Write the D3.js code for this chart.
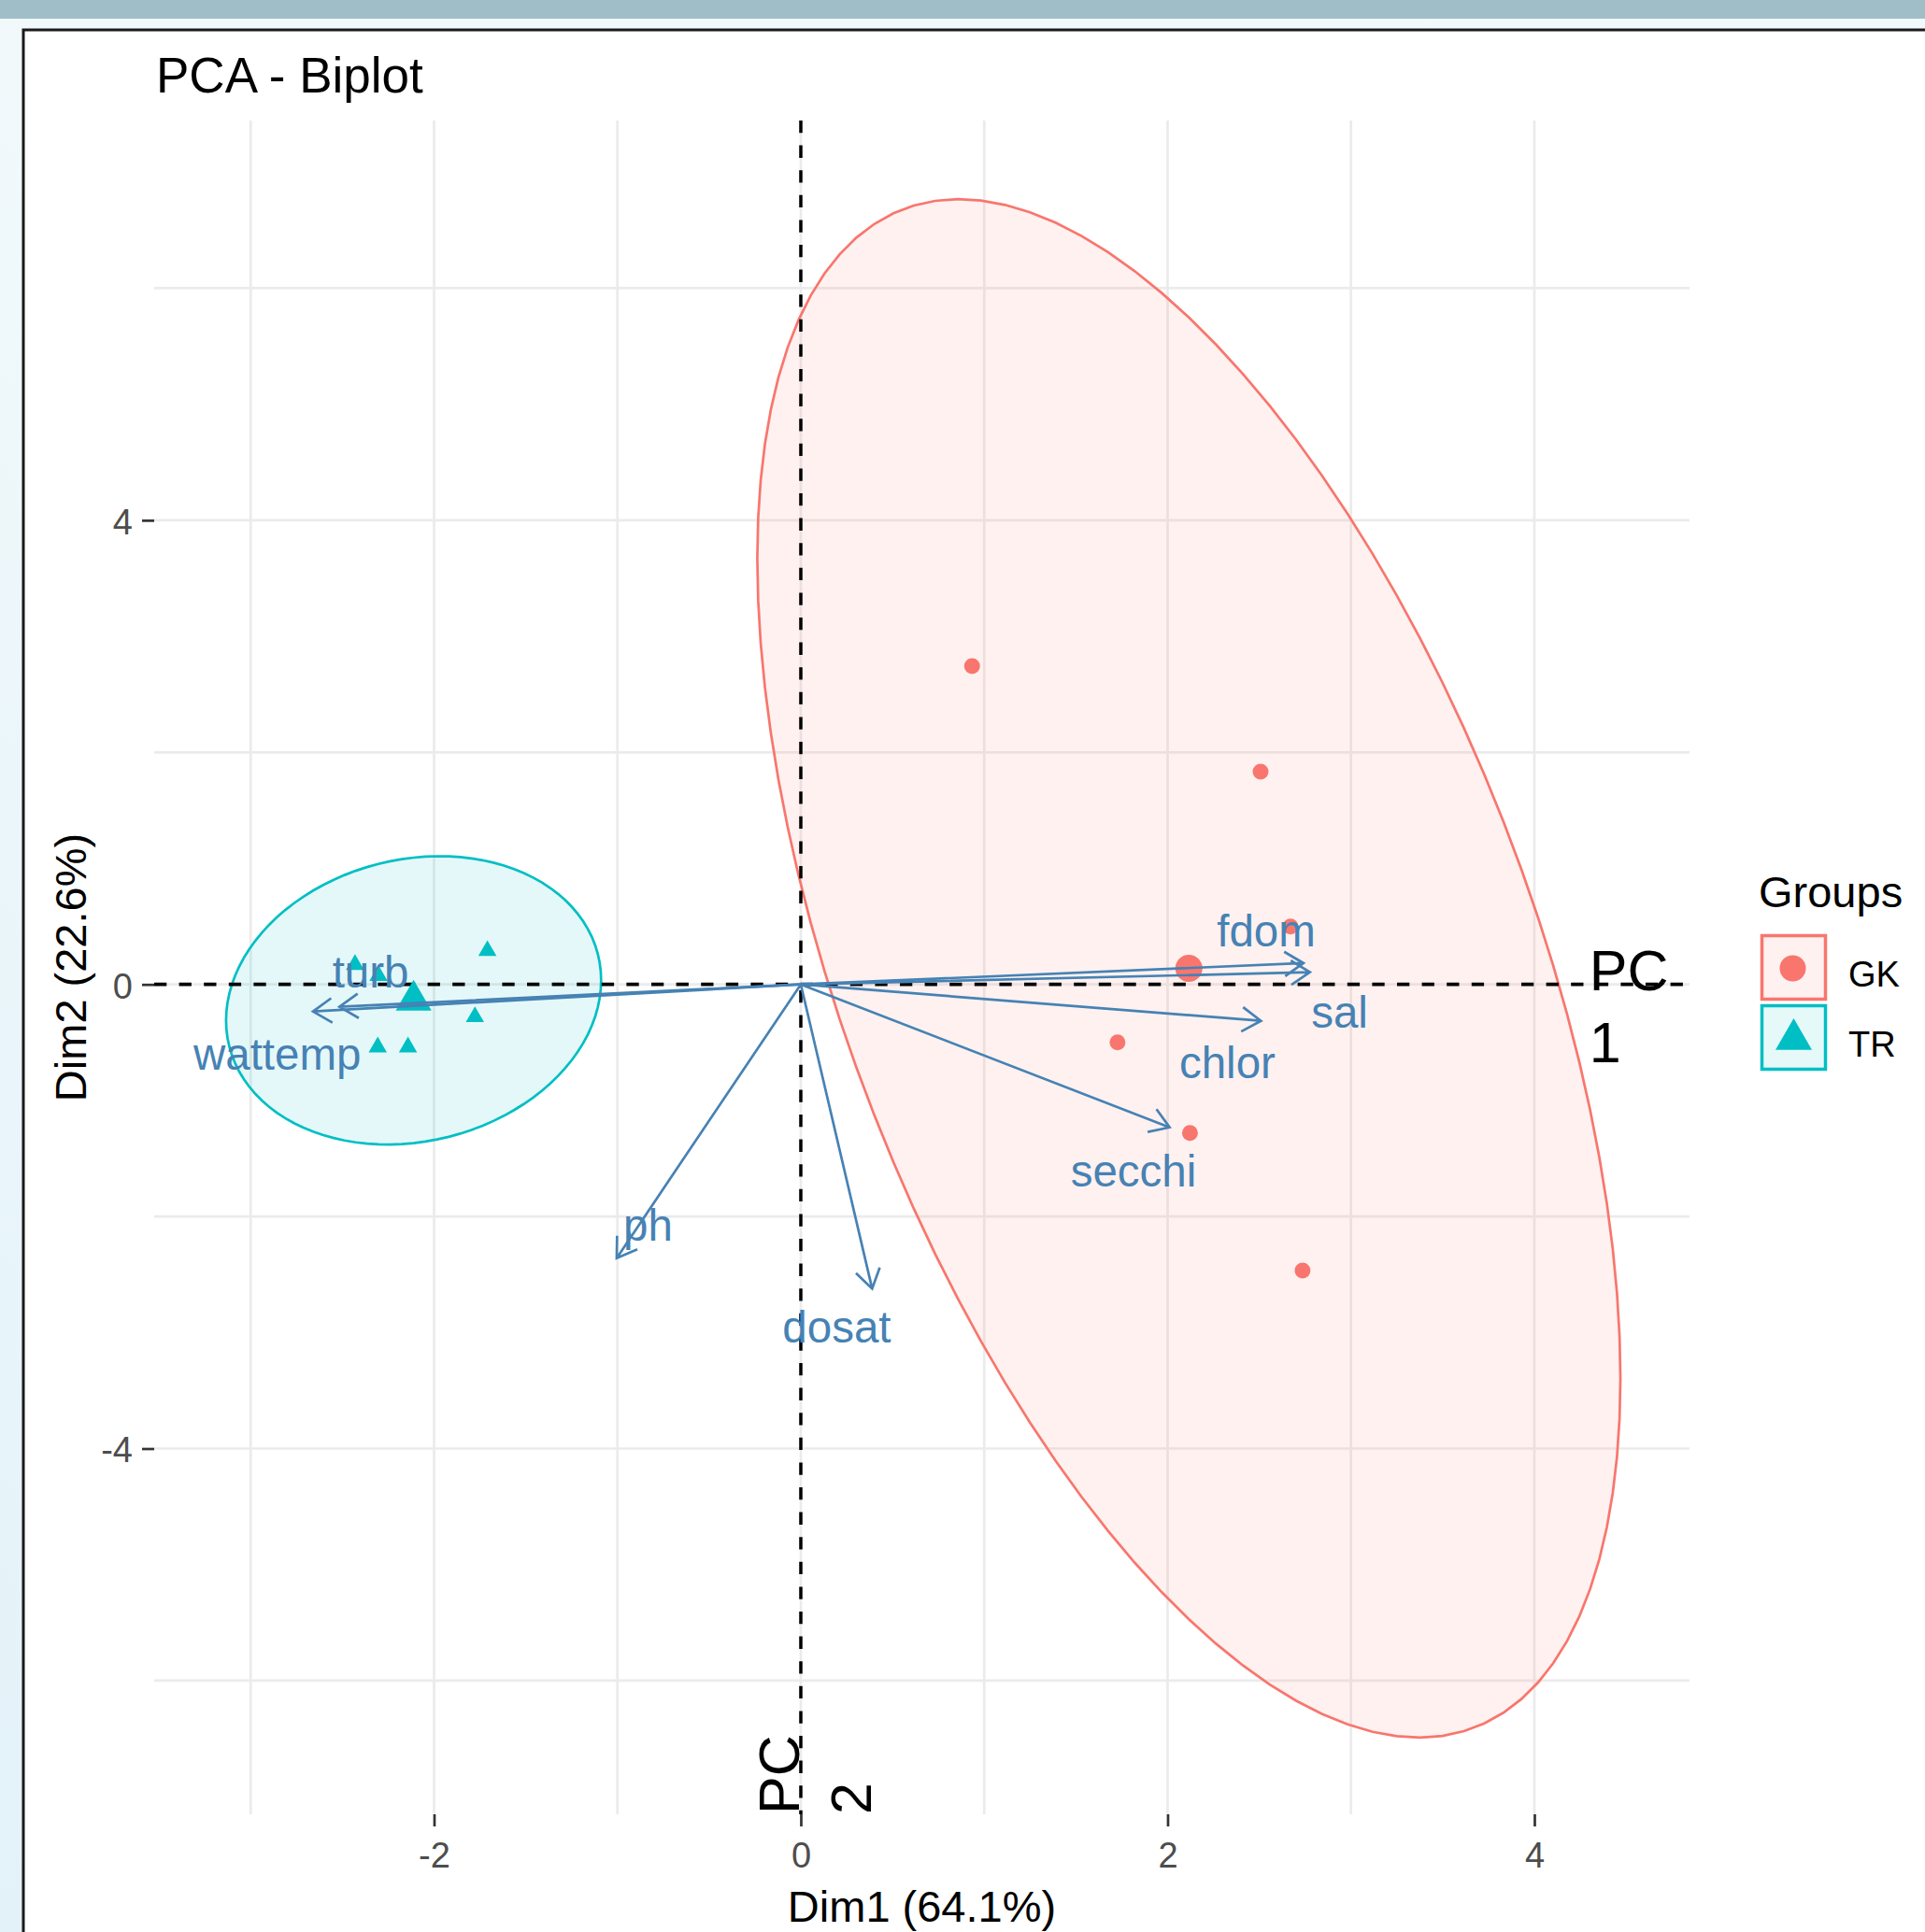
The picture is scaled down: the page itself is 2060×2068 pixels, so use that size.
<!DOCTYPE html>
<html><head><meta charset="utf-8">
<script src="https://cdn.jsdelivr.net/npm/d3@7"></script>
<style>
body{margin:0;background:#fff;}
svg{display:block;font-family:"Liberation Sans",Arial,sans-serif;}
</style>
</head><body>
<svg id="chart" width="2060" height="2068"></svg>
<script>
// ---------- data ----------
const groups = ["GK", "TR"];
const groupColors = ["#F8766D", "#00BFC4"];
const groupFills = ["#fef1f0", "#e6f9f9"];
const gkDim1 = [0.934, 2.507, 2.670, 1.727, 2.122, 2.736];
const gkDim2 = [2.743, 1.833, 0.499, -0.499, -1.280, -2.466];
const trDim1 = [-2.431, -2.303, -1.709, -1.777, -2.307, -2.142];
const trDim2 = [0.17, 0.075, 0.29, -0.28, -0.54, -0.54];
const variables = ["fdom", "sal", "chlor", "secchi", "dosat", "ph", "wattemp", "turb"];
const varDim1 = [2.741, 2.776, 2.509, 2.011, 0.389, -1.004, -2.660, -2.516];
const varDim2 = [0.183, 0.105, -0.314, -1.232, -2.622, -2.359, -0.233, -0.193];
const labelDim1 = [2.538, 2.938, 2.326, 1.814, 0.196, -0.833, -2.855, -2.346];
const labelDim2 = [0.330, -0.373, -0.810, -1.742, -3.089, -2.211, -0.735, -0.024];
const xTicks = [-2, 0, 2, 4];
const yTicks = [-4, 0, 4];
const xMinor = [-3, -1, 1, 3];
const yMinor = [-6, -2, 2, 6];
const xDomain = [-3.526, 4.846];
const yDomain = [-7.152, 7.445];
const titleText = "PCA - Biplot";
const xTitle = "Dim1 (64.1%)";
const yTitle = "Dim2 (22.6%)";
const legendTitle = "Groups";
const pc1Lines = ["PC", "1"];
const pc2Lines = ["PC", "2"];
const pc1X = 4.3;
const ellipseLevel = 0.95;

// ---------- layout ----------
const W = 2060, H = 2068;
const panel = {left: 165, right: 1808, top: 129, bottom: 1942};
const svg = d3.select("#chart");

const x = d3.scaleLinear().domain(xDomain).range([panel.left, panel.right]);
const y = d3.scaleLinear().domain(yDomain).range([panel.bottom, panel.top]);

// window background
const defs = svg.append("defs");
const grad = defs.append("linearGradient").attr("id", "bg").attr("x1", 0).attr("y1", 0).attr("x2", 0).attr("y2", 1);
grad.append("stop").attr("offset", "0%").attr("stop-color", "#f1f9fb");
grad.append("stop").attr("offset", "100%").attr("stop-color", "#e3f2f9");
svg.append("rect").attr("width", W).attr("height", H).attr("fill", "url(#bg)");
svg.append("rect").attr("width", W).attr("height", 20).attr("fill", "#a0bec8");
svg.append("rect").attr("x", 24).attr("y", 31).attr("width", W - 24).attr("height", H - 31).attr("fill", "#ffffff");
svg.append("path").attr("d", `M25,${H} V32 H${W}`).attr("fill", "none").attr("stroke", "#1a1a1a").attr("stroke-width", 3);

// grid
const grid = svg.append("g");
xTicks.concat(xMinor).forEach(v => {
  grid.append("line").attr("x1", x(v)).attr("x2", x(v)).attr("y1", panel.top).attr("y2", panel.bottom)
    .attr("stroke", "#ebebeb").attr("stroke-width", 2.7);
});
yTicks.concat(yMinor).forEach(v => {
  grid.append("line").attr("y1", y(v)).attr("y2", y(v)).attr("x1", panel.left).attr("x2", panel.right)
    .attr("stroke", "#ebebeb").attr("stroke-width", 2.7);
});

// axes
const fmt = d => String(d);
const gx = svg.append("g").attr("transform", `translate(0,${panel.bottom})`)
  .call(d3.axisBottom(x).tickValues(xTicks).tickFormat(fmt).tickSize(13).tickPadding(17));
const gy = svg.append("g").attr("transform", `translate(${panel.left},0)`)
  .call(d3.axisLeft(y).tickValues(yTicks).tickFormat(fmt).tickSize(13).tickPadding(10));
[gx, gy].forEach(g => {
  g.select(".domain").remove();
  g.selectAll(".tick line").attr("stroke", "#333333").attr("stroke-width", 2.7);
  g.selectAll(".tick text").attr("fill", "#4d4d4d").attr("font-size", 38)
    .attr("font-family", "Liberation Sans, Arial, sans-serif");
});
gy.selectAll(".tick text").attr("dy", "0.38em");

// ellipses (normal-theory 95% data ellipse, like stat_ellipse type="norm")
function qf2(p, d2) { return (d2 / 2) * (Math.pow(1 - p, -2 / d2) - 1); }
function ellipse(xs, ys) {
  const n = xs.length;
  const mx = d3.mean(xs), my = d3.mean(ys);
  let sxx = 0, syy = 0, sxy = 0;
  for (let i = 0; i < n; i++) {
    sxx += (xs[i] - mx) ** 2; syy += (ys[i] - my) ** 2; sxy += (xs[i] - mx) * (ys[i] - my);
  }
  sxx /= n - 1; syy /= n - 1; sxy /= n - 1;
  const a = Math.sqrt(sxx), b = sxy / a, c = Math.sqrt(syy - b * b);
  const r = Math.sqrt(2 * qf2(ellipseLevel, n - 1));
  const pts = [];
  for (let k = 0; k <= 100; k++) {
    const t = 2 * Math.PI * k / 100, u = Math.cos(t), v = Math.sin(t);
    pts.push([mx + r * u * a, my + r * (u * b + v * c)]);
  }
  return pts;
}
const groupData = [
  {name: groups[0], xs: gkDim1, ys: gkDim2, color: groupColors[0], fill: groupFills[0]},
  {name: groups[1], xs: trDim1, ys: trDim2, color: groupColors[1], fill: groupFills[1]}
];
const line = d3.line().x(d => x(d[0])).y(d => y(d[1]));
groupData.forEach(g => {
  svg.append("path").attr("d", line(ellipse(g.xs, g.ys)) + "Z")
    .attr("fill", g.color).attr("fill-opacity", 0.1)
    .attr("stroke", g.color).attr("stroke-width", 2.7);
});

// individual points
const tri = s => d3.symbol().type(d3.symbolTriangle).size(s)();
groupData.forEach((g, gi) => {
  g.xs.forEach((v, i) => {
    if (gi === 0) {
      svg.append("circle").attr("cx", x(v)).attr("cy", y(g.ys[i])).attr("r", 8.5).attr("fill", g.color);
    } else {
      svg.append("path").attr("d", tri(165)).attr("transform", `translate(${x(v)},${y(g.ys[i])})`).attr("fill", g.color);
    }
  });
});

// reference dashed lines
svg.append("line").attr("x1", panel.left).attr("x2", panel.right).attr("y1", y(0)).attr("y2", y(0))
  .attr("stroke", "#000").attr("stroke-width", 3.8).attr("stroke-dasharray", "13.3,13.3");
svg.append("line").attr("y1", panel.top).attr("y2", panel.bottom).attr("x1", x(0)).attr("x2", x(0))
  .attr("stroke", "#000").attr("stroke-width", 3.5).attr("stroke-dasharray", "13.3,13.3");

// group mean points
groupData.forEach((g, gi) => {
  const mx = d3.mean(g.xs), my = d3.mean(g.ys);
  if (gi === 0) {
    svg.append("circle").attr("cx", x(mx)).attr("cy", y(my)).attr("r", 14.5).attr("fill", g.color);
  } else {
    svg.append("path").attr("d", tri(635)).attr("transform", `translate(${x(mx)},${y(my)})`).attr("fill", g.color);
  }
});

// variable arrows
const arrowColor = "#4682B4";
const headLen = 24, headAng = 33 * Math.PI / 180;
variables.forEach((name, i) => {
  const x0 = x(0), y0 = y(0), x1 = x(varDim1[i]), y1 = y(varDim2[i]);
  const ang = Math.atan2(y1 - y0, x1 - x0);
  const hx1 = x1 - headLen * Math.cos(ang - headAng), hy1 = y1 - headLen * Math.sin(ang - headAng);
  const hx2 = x1 - headLen * Math.cos(ang + headAng), hy2 = y1 - headLen * Math.sin(ang + headAng);
  svg.append("path")
    .attr("d", `M${x0},${y0}L${x1},${y1}M${hx1},${hy1}L${x1},${y1}L${hx2},${hy2}`)
    .attr("fill", "none").attr("stroke", arrowColor).attr("stroke-width", 2.7)
    .attr("stroke-linejoin", "miter").attr("stroke-linecap", "butt");
});
variables.forEach((name, i) => {
  svg.append("text").attr("x", x(labelDim1[i])).attr("y", y(labelDim2[i]))
    .attr("text-anchor", "middle").attr("font-size", 47.5).attr("fill", arrowColor).text(name);
});

// PC annotations
const pc1 = svg.append("text").attr("x", x(pc1X)).attr("y", y(0) + 6).attr("font-size", 61).attr("fill", "#000");
pc1Lines.forEach((t, i) => pc1.append("tspan").attr("x", x(pc1X)).attr("dy", i === 0 ? 0 : 77).text(t));
const pc2 = svg.append("text").attr("transform", `translate(${x(0) - 2},${panel.bottom}) rotate(-90)`)
  .attr("font-size", 61).attr("fill", "#000");
pc2Lines.forEach((t, i) => pc2.append("tspan").attr("x", 0).attr("dy", i === 0 ? 0 : 77).text(t));

// titles
svg.append("text").attr("x", 167).attr("y", 99).attr("font-size", 53).attr("fill", "#000").text(titleText);
svg.append("text").attr("x", (panel.left + panel.right) / 2).attr("y", 2057).attr("text-anchor", "middle")
  .attr("font-size", 47).attr("fill", "#000").text(xTitle);
svg.append("text").attr("transform", `translate(92,${(panel.top + panel.bottom) / 2}) rotate(-90)`)
  .attr("text-anchor", "middle").attr("font-size", 47).attr("fill", "#000").text(yTitle);

// legend
const lg = svg.append("g").attr("transform", "translate(1882,0)");
lg.append("text").attr("x", 0).attr("y", 971).attr("font-size", 47).attr("fill", "#000").text(legendTitle);
groups.forEach((gname, i) => {
  const top = 1001.5 + i * 75;
  lg.append("rect").attr("x", 3.5).attr("y", top).attr("width", 68).attr("height", 68)
    .attr("fill", groupFills[i]).attr("stroke", groupColors[i]).attr("stroke-width", 3.5);
  const cx = 37.5, cy = top + 34;
  if (i === 0) lg.append("circle").attr("cx", cx - 1).attr("cy", cy + 1).attr("r", 14).attr("fill", groupColors[i]);
  else lg.append("path").attr("d", tri(660)).attr("transform", `translate(${cx},${cy + 2})`).attr("fill", groupColors[i]);
  lg.append("text").attr("x", 96).attr("y", top + 54).attr("font-size", 38).attr("fill", "#000").text(gname);
});
</script>
</body></html>
